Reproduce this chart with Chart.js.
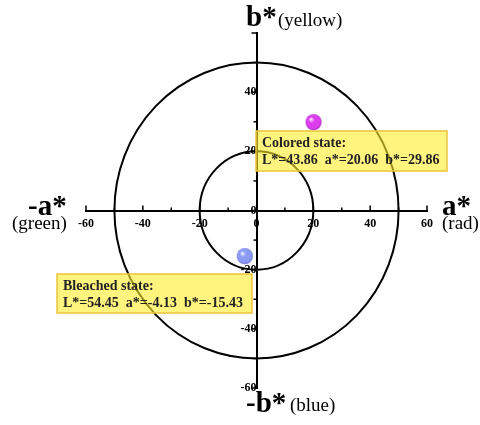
<!DOCTYPE html>
<html>
<head>
<meta charset="utf-8">
<script src="https://cdn.jsdelivr.net/npm/chart.js@4/dist/chart.umd.min.js"></script>
<style>
  html, body { margin: 0; padding: 0; background: #fff; }
  #wrap { width: 480px; height: 425px; position: relative; }
</style>
</head>
<body>
<div id="wrap"><canvas id="c" width="480" height="425"></canvas></div>
<script>
// CIELAB a*b* plane: axis range and tick positions
const axisMin = -60;
const axisMax = 60;
const majorStep = 20;
const minorTicks = [-50, -30, -10, 10, 30, 50];
// chroma reference rings (radius in a*/b* units)
const ringRadii = [20, 50];

// measured colour states
const stateNames = ['Colored state:', 'Bleached state:'];
const lValues = [43.86, 54.45];
const aValues = [20.06, -4.13];
const bValues = [29.86, -15.43];
const sphereColors = [
  { hi: '#ffe6ff', mid: '#dc3cee', lo: '#9a10a8' },
  { hi: '#f0f2ff', mid: '#8c9cf4', lo: '#5060c8' }
];

const SERIF = "'Liberation Serif', 'Times New Roman', serif";

// shaded sphere sprites used as point markers
function makeSphere(c, r) {
  const s = document.createElement('canvas');
  s.width = s.height = r * 2 + 2;
  const g = s.getContext('2d');
  const cx = r + 1, cy = r + 1;
  const grad = g.createRadialGradient(cx - r * 0.35, cy - r * 0.4, r * 0.05, cx, cy, r);
  grad.addColorStop(0, c.hi);
  grad.addColorStop(0.35, c.mid);
  grad.addColorStop(0.85, c.mid);
  grad.addColorStop(1, c.lo);
  g.fillStyle = grad;
  g.beginPath();
  g.arc(cx, cy, r, 0, Math.PI * 2);
  g.fill();
  return s;
}
const sphereImages = sphereColors.map(c => makeSphere(c, 8));

const points = aValues.map((a, i) => ({ x: a, y: bValues[i] }));

// rings, minor/major tick marks, axis titles and state boxes
const labPlot = {
  id: 'labPlot',
  beforeDatasetsDraw(chart) {
    const { ctx, scales: { x, y } } = chart;
    const cx = x.getPixelForValue(0), cy = y.getPixelForValue(0);
    ctx.save();
    ctx.strokeStyle = '#000';
    ctx.lineWidth = 2;
    ringRadii.forEach(r => {
      const rx = x.getPixelForValue(r) - cx;
      const ry = cy - y.getPixelForValue(r);
      ctx.beginPath();
      ctx.ellipse(cx, cy, rx, ry, 0, 0, Math.PI * 2);
      ctx.stroke();
    });
    // tick marks: x ticks point up, y ticks point left
    ctx.lineWidth = 1.5;
    for (let v = axisMin; v <= axisMax; v += majorStep) {
      const px = x.getPixelForValue(v);
      ctx.beginPath(); ctx.moveTo(px, cy); ctx.lineTo(px, cy - 5); ctx.stroke();
      const py = y.getPixelForValue(v);
      ctx.beginPath(); ctx.moveTo(cx, py); ctx.lineTo(cx - 5, py); ctx.stroke();
    }
    minorTicks.forEach(v => {
      const px = x.getPixelForValue(v);
      ctx.beginPath(); ctx.moveTo(px, cy); ctx.lineTo(px, cy - 3); ctx.stroke();
      const py = y.getPixelForValue(v);
      ctx.beginPath(); ctx.moveTo(cx, py); ctx.lineTo(cx - 3, py); ctx.stroke();
    });
    ctx.restore();
  },
  afterDatasetsDraw(chart) {
    const { ctx } = chart;
    ctx.save();
    // state boxes
    const boxes = [
      { left: 256, top: 131, w: 191, h: 40 },
      { left: 57, top: 274, w: 195, h: 39 }
    ];
    boxes.forEach((b, i) => {
      ctx.fillStyle = 'rgba(255, 236, 40, 0.6)';
      ctx.fillRect(b.left, b.top, b.w, b.h);
      ctx.strokeStyle = '#ecc43a';
      ctx.lineWidth = 1.5;
      ctx.strokeRect(b.left, b.top, b.w, b.h);
      ctx.fillStyle = '#222';
      ctx.font = 'bold 14px ' + SERIF;
      ctx.textBaseline = 'alphabetic';
      ctx.textAlign = 'left';
      ctx.fillText(stateNames[i], b.left + 6, b.top + 16);
      const line = 'L*=' + lValues[i].toFixed(2) + '  a*=' + aValues[i].toFixed(2) + '  b*=' + bValues[i].toFixed(2);
      ctx.fillText(line, b.left + 6, b.top + 33);
    });

    // axis titles
    ctx.fillStyle = '#000';
    ctx.textBaseline = 'alphabetic';
    ctx.textAlign = 'left';
    const big = (t, bx, by) => {
      ctx.font = 'bold 29px ' + SERIF;
      ctx.fillText(t, bx, by);
    };
    const small = (t, sx, sy) => {
      ctx.font = '19px ' + SERIF;
      ctx.fillText(t, sx, sy);
    };
    big('b*', 246, 26);
    small('(yellow)', 278, 26);
    big('-b*', 246, 412);
    small('(blue)', 290, 411);
    big('-a*', 28, 215);
    small('(green)', 12, 229);
    big('a*', 442, 215);
    small('(rad)', 442, 229);
    ctx.restore();
  }
};

const tickFont = { family: SERIF, weight: 'bold', size: 12 };

new Chart(document.getElementById('c'), {
  type: 'scatter',
  data: {
    datasets: [{
      data: points,
      pointStyle: sphereImages,
      pointRadius: 8,
      pointHoverRadius: 8
    }]
  },
  options: {
    responsive: false,
    animation: false,
    devicePixelRatio: 1,
    layout: { padding: { left: 86, right: 53, top: 33, bottom: 37 } },
    plugins: { legend: { display: false }, tooltip: { enabled: false } },
    scales: {
      x: {
        type: 'linear',
        min: axisMin, max: axisMax,
        position: { y: 0 },
        grid: { display: false, drawTicks: false },
        border: { display: true, color: '#000', width: 2 },
        ticks: { stepSize: majorStep, color: '#000', font: tickFont, padding: 6, maxRotation: 0 }
      },
      y: {
        type: 'linear',
        min: axisMin, max: axisMax,
        position: { x: 0 },
        grid: { display: false, drawTicks: false },
        border: { display: true, color: '#000', width: 2 },
        ticks: {
          stepSize: majorStep, color: '#000', font: tickFont, padding: 8,
          callback: v => (v === axisMax ? '' : v)
        }
      }
    }
  },
  plugins: [labPlot]
});
</script>
</body>
</html>
